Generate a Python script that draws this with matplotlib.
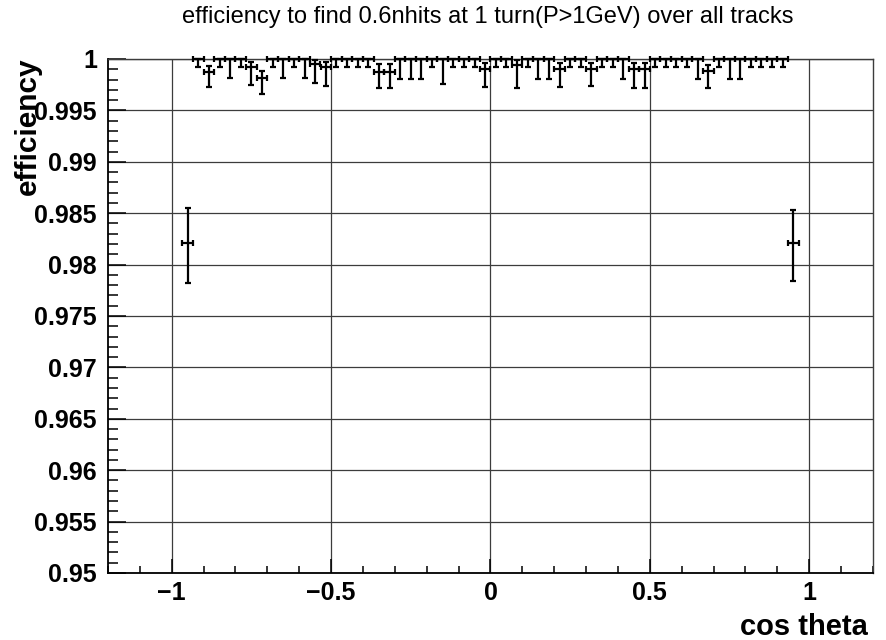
import numpy as np
import matplotlib
matplotlib.use("Agg")
import matplotlib.pyplot as plt
from matplotlib.ticker import MultipleLocator, FuncFormatter

plt.rcParams["font.family"] = ["Liberation Sans", "DejaVu Sans"]

# Binning: 60 bins in cos(theta) over [-1, 1]; bins 1..58 are filled
n_bins = 60
edges = np.linspace(-1.0, 1.0, n_bins + 1)
centers = 0.5 * (edges[:-1] + edges[1:])
half_width = 0.5 * (edges[1] - edges[0])
cos_theta = centers[1:59]

efficiency = [
    0.9821,
    1, 0.9987, 1, 1, 1, 0.9992, 0.9982, 1, 1, 1,
    1, 0.9995, 0.9992, 1, 1, 1, 1, 0.9987, 0.9987, 1,
    1, 1, 1, 1, 1, 1, 1, 0.9990, 1, 1,
    0.9994, 1, 1, 1, 0.9990, 1, 1, 0.9990, 1, 1,
    1, 0.9990, 0.9990, 1, 1, 1, 1, 1, 0.9988, 1,
    1, 1, 1, 1, 1, 1,
    0.9821,
]
err_low = [
    0.0039,
    0.0008, 0.0014, 0.0008, 0.0018, 0.0008, 0.0017, 0.0016, 0.0008, 0.0018, 0.0008,
    0.0018, 0.0018, 0.0018, 0.0008, 0.0008, 0.0008, 0.0008, 0.0015, 0.0015, 0.0019,
    0.0019, 0.0019, 0.0008, 0.0024, 0.0008, 0.0008, 0.0008, 0.0017, 0.0008, 0.0008,
    0.0022, 0.0008, 0.0019, 0.0019, 0.0017, 0.0008, 0.0008, 0.0016, 0.0008, 0.0008,
    0.0019, 0.0018, 0.0018, 0.0008, 0.0008, 0.0008, 0.0008, 0.0019, 0.0016, 0.0008,
    0.0019, 0.0019, 0.0008, 0.0008, 0.0008, 0.0008,
    0.0037,
]
err_high = [
    0.0034,
    0, 0.0006, 0, 0, 0, 0.0005, 0.0006, 0, 0, 0,
    0, 0.0004, 0.0005, 0, 0, 0, 0, 0.0008, 0.0008, 0,
    0, 0, 0, 0, 0, 0, 0, 0.0006, 0, 0,
    0.0005, 0, 0, 0, 0.0006, 0, 0, 0.0006, 0, 0,
    0, 0.0006, 0.0006, 0, 0, 0, 0, 0, 0.0006, 0,
    0, 0, 0, 0, 0, 0,
    0.0032,
]

title = "efficiency to find 0.6nhits at 1 turn(P>1GeV) over all tracks"
x_label = "cos theta"
y_label = "efficiency"

W, H = 887, 640
fig = plt.figure(figsize=(W / 100, H / 100), dpi=100)
left, right, top, bottom = 108, 873, 59, 573
ax = fig.add_axes([left / W, 1 - bottom / H, (right - left) / W, (bottom - top) / H])

ax.set_xlim(-1.2, 1.2)
ax.set_ylim(0.95, 1.0)

ax.errorbar(cos_theta, efficiency, xerr=half_width, yerr=[err_low, err_high],
            fmt="none", ecolor="black", elinewidth=1.6, capsize=2.2,
            capthick=1.6, clip_on=False, zorder=3)

grid_col = "#3c3c3c"
ax.grid(True, which="major", color=grid_col, linewidth=0.9)
ax.set_axisbelow(True)

for s in ("top", "right"):
    ax.spines[s].set_color(grid_col)
    ax.spines[s].set_linewidth(1.0)
for s in ("left", "bottom"):
    ax.spines[s].set_color("black")
    ax.spines[s].set_linewidth(1.3)

ax.xaxis.set_major_locator(MultipleLocator(0.5))
ax.xaxis.set_minor_locator(MultipleLocator(0.1))
ax.yaxis.set_major_locator(MultipleLocator(0.005))
ax.yaxis.set_minor_locator(MultipleLocator(0.001))

def fmt(v, pos):
    s = f"{v:.4g}"
    if s in ("-0", "0"):
        return "0"
    return s.replace("-", "\u2212")

ax.xaxis.set_major_formatter(FuncFormatter(fmt))
ax.yaxis.set_major_formatter(FuncFormatter(fmt))

ax.tick_params(axis="x", which="major", direction="in", length=10, width=1.1, pad=6,
               labelsize=18)
ax.tick_params(axis="x", which="minor", direction="in", length=5, width=1.1)
ax.tick_params(axis="y", which="major", direction="in", length=13, width=1.1, pad=8,
               labelsize=18)
ax.tick_params(axis="y", which="minor", direction="in", length=7, width=1.1)
for lab in ax.get_xticklabels() + ax.get_yticklabels():
    lab.set_fontweight("bold")

fig.text(488 / W, 1 - 17 / H, title, ha="center", va="center", fontsize=17)
fig.text(868 / W, 1 - 627 / H, x_label, ha="right", va="center", fontsize=21,
         fontweight="bold")
fig.text(28 / W, 1 - 57 / H, y_label, ha="center", va="top", rotation=90,
         fontsize=21.5, fontweight="bold")

fig.savefig("out.png", dpi=100)
